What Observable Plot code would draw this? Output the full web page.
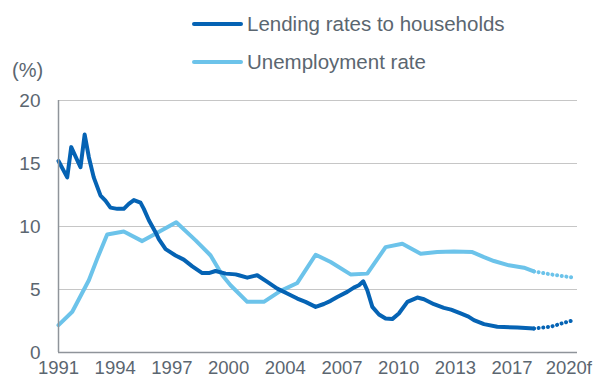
<!DOCTYPE html>
<html>
<head>
<meta charset="utf-8">
<script src="https://cdn.jsdelivr.net/npm/d3@7"></script>
<script src="https://cdn.jsdelivr.net/npm/@observablehq/plot@0.6"></script>
<style>
  html, body { margin: 0; padding: 0; background: #fff; }
  #wrap { position: relative; width: 606px; height: 378px; font-family: "Liberation Sans", Arial, sans-serif; color: #5b6670; overflow: hidden; }
  #chart { position: absolute; left: 0; top: 0; }
  .leg { position: absolute; font-size: 20.5px; line-height: 1; white-space: nowrap; display: flex; align-items: center; }
  .leg span.sw { display: inline-block; width: 51px; height: 4px; border-radius: 2px; margin-right: 4px; }
  #unit { position: absolute; left: 12px; top: 60px; font-size: 20px; line-height: 1; }
</style>
</head>
<body>
<div id="wrap">
  <div id="chart"></div>
  <div class="leg" style="left:192px; top:14px;"><span class="sw" style="background:#0563b4"></span>Lending rates to households</div>
  <div class="leg" style="left:192px; top:52px;"><span class="sw" style="background:#6cc3ea"></span>Unemployment rate</div>
  <div id="unit">(%)</div>
</div>
<script>
// ---- Data (decimal year, %) ----
const lendYears = [1991.0, 1991.5, 1991.73, 1992.26, 1992.5, 1992.74, 1993.02, 1993.41, 1993.69, 1993.98,
  1994.37, 1994.74, 1995.03, 1995.32, 1995.7, 1995.89, 1996.18, 1996.56, 1996.75, 1997.14,
  1997.71, 1998.18, 1998.67, 1999.24, 1999.62, 2000.0, 2000.58, 2001.15, 2001.34, 2001.82,
  2002.39, 2002.97, 2003.54, 2004.11, 2004.69, 2005.16, 2005.74, 2006.21, 2006.6, 2006.98,
  2007.55, 2007.93, 2008.22, 2008.47, 2008.7, 2008.99, 2009.37, 2009.75, 2010.13, 2010.51,
  2011.0, 2011.57, 2011.95, 2012.52, 2013.09, 2013.5, 2014.05, 2014.5, 2014.81, 2015.39,
  2016.15, 2017.3, 2018.25];
const lendValues = [15.2, 13.9, 16.3, 14.7, 17.3, 15.5, 13.9, 12.45, 12.05, 11.5,
  11.4, 11.4, 11.8, 12.1, 11.9, 11.4, 10.5, 9.55, 9.0, 8.2,
  7.7, 7.37, 6.84, 6.3, 6.3, 6.47, 6.26, 6.2, 6.13, 5.94,
  6.13, 5.6, 5.07, 4.68, 4.28, 4.02, 3.62, 3.85, 4.1, 4.41,
  4.81, 5.15, 5.34, 5.65, 4.94, 3.62, 3.02, 2.7, 2.65, 3.1,
  4.02, 4.36, 4.23, 3.83, 3.54, 3.4, 3.1, 2.85, 2.57, 2.25,
  2.04, 1.99, 1.91];
const lendFcYears = [2018.25, 2019.21, 2019.97, 2020.55];
const lendFcValues = [1.91, 2.04, 2.36, 2.57];

const unempYears = [1991.0, 1991.79, 1992.74, 1993.22, 1993.79, 1994.74, 1995.8, 1996.56, 1997.75, 1998.86,
  1999.72, 2000.39, 2000.86, 2001.82, 2002.77, 2003.73, 2004.69, 2005.74, 2006.6, 2007.74,
  2008.7, 2009.75, 2010.71, 2011.76, 2012.71, 2013.67, 2014.72, 2015.39, 2015.96, 2016.82,
  2017.68, 2018.25];
const unempValues = [2.17, 3.23, 5.73, 7.45, 9.37, 9.6, 8.84, 9.42, 10.34, 8.9,
  7.7, 6.13, 5.34, 4.02, 4.02, 4.89, 5.52, 7.76, 7.18, 6.2,
  6.26, 8.36, 8.63, 7.84, 7.97, 8.02, 7.97, 7.57, 7.26, 6.92,
  6.73, 6.44];
const unempFcYears = [2018.25, 2019.21, 2019.97, 2020.55];
const unempFcValues = [6.44, 6.2, 6.05, 5.94];

const xTickPositions = [1991, 1994.25, 1997.5, 2000.75, 2004, 2007.25, 2010.5, 2013.75, 2017, 2020.25];
const xTickLabels = ["1991", "1994", "1997", "2000", "2004", "2007", "2010", "2013", "2017", "2020f"];
const yTicks = [0, 5, 10, 15, 20];

// ---- Build tables ----
const toRows = (xs, ys) => xs.map((x, i) => ({x, y: ys[i]}));
const lend = toRows(lendYears, lendValues);
const lendFc = toRows(lendFcYears, lendFcValues);
const unemp = toRows(unempYears, unempValues);
const unempFc = toRows(unempFcYears, unempFcValues);

const DARK = "#0563b4", LIGHT = "#6cc3ea", TEXT = "#5b6670";

const chart = Plot.plot({
  width: 606,
  height: 378,
  marginLeft: 58,
  marginRight: 29,
  marginTop: 100,
  marginBottom: 26,
  style: { fontFamily: "'Liberation Sans', Arial, sans-serif", fontSize: "19px", color: TEXT, background: "white" },
  x: { type: "linear", domain: [1991, 2020.75] },
  y: { domain: [0, 20] },
  marks: [
    Plot.ruleY(yTicks.filter(d => d > 0), { stroke: "#c6c6c6", strokeWidth: 1.2 }),
    Plot.lineY(unemp, { x: "x", y: "y", stroke: LIGHT, strokeWidth: 4, strokeLinejoin: "round", strokeLinecap: "round" }),
    Plot.lineY(unempFc, { x: "x", y: "y", stroke: LIGHT, strokeWidth: 4, strokeDasharray: "0.1 4.6", strokeLinecap: "round" }),
    Plot.lineY(lend, { x: "x", y: "y", stroke: DARK, strokeWidth: 4, strokeLinejoin: "round", strokeLinecap: "round" }),
    Plot.lineY(lendFc, { x: "x", y: "y", stroke: DARK, strokeWidth: 4, strokeDasharray: "0.1 4.6", strokeLinecap: "round" }),
    Plot.ruleY([0], { stroke: "#8f949a", strokeWidth: 1.5 }),
    Plot.ruleX([1991], { stroke: "#8f949a", strokeWidth: 1.5 }),
    Plot.axisY({ ticks: yTicks, tickSize: 0, tickPadding: 18, label: null, fill: TEXT }),
    Plot.axisX({ ticks: xTickPositions, tickFormat: (d, i) => xTickLabels[i], tickSize: 0, tickPadding: 8, fontSize: 18.5, label: null, fill: TEXT })
  ]
});
document.getElementById("chart").appendChild(chart);
</script>
</body>
</html>
